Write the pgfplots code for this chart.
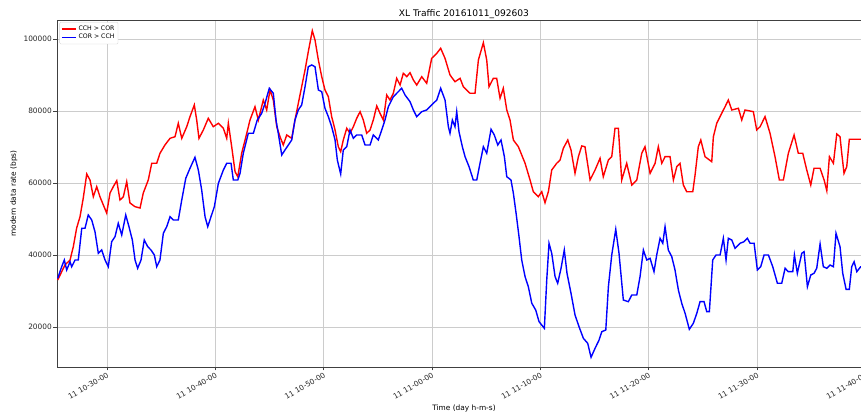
\documentclass[border=0pt]{standalone}
\usepackage{fontspec}
\setmainfont{DejaVu Sans}
\usepackage{pgfplots}
\pgfplotsset{compat=1.18}
\begin{document}
\begin{tikzpicture}
\begin{axis}[
  scale only axis,
  width=814pt, height=347pt,
  xmin=25.385, xmax=100.52,
  ymin=8980, ymax=105272,
  scaled y ticks=false, scaled x ticks=false,
  xtick={30,40,50,60,70,80,90,100},
  xticklabels={11 10-30-00,11 10-40-00,11 10-50-00,11 11-00-00,11 11-10-00,11 11-20-00,11 11-30-00,11 11-40-00},
  ytick={20000,40000,60000,80000,100000},
  yticklabels={20000,40000,60000,80000,100000},
  xtick pos=bottom, ytick pos=left,
  tick align=outside,
  major tick length=3.5pt,
  tick style={black!75, line width=0.6pt},
  axis line style={black!75, line width=0.8pt},
  grid=major,
  major grid style={gray!40, line width=0.8pt},
  tick label style={font=\fontsize{7.4}{8}\selectfont, text=black!85},
  xticklabel style={rotate=30, anchor=north east, inner sep=1pt},
  yticklabel style={inner sep=1.5pt},
  title={XL Traffic 20161011\_092603},
  every axis title/.style={at={(axis description cs:0.5,1)}, anchor=base, yshift=3.3pt, font=\fontsize{9.1}{10}\selectfont},
  xlabel={Time (day h-m-s)},
  every axis x label/.style={at={(axis description cs:0.5,0)}, anchor=base, yshift=-44pt, font=\fontsize{7.4}{8}\selectfont},
  ylabel={modem data rate (bps)},
  every axis y label/.style={at={([xshift=-41pt]axis description cs:0,0.5)}, rotate=90, anchor=base, font=\fontsize{7.4}{8}\selectfont},
  legend style={at={(axis description cs:0.003,0.994)}, anchor=north west, font=\fontsize{6.2}{7}\selectfont, draw=gray!35, rounded corners=1.2pt, fill=white, inner sep=1.5pt, row sep=-1.5pt},
  legend cell align=left,
  legend image code/.code={\draw[#1] (0pt,0pt) -- (14pt,0pt);},
]
\addplot[red, line width=1.4pt] coordinates {
(25.45,33120) (26.12,37290) (26.59,38670) (26.89,42360) (27.20,47550) (27.51,50690) (27.81,55880) (28.13,62540) (28.43,60870) (28.74,56240) (29.05,59010) (29.35,56240) (29.66,53940) (29.97,51710) (30.28,57270) (30.58,59010) (30.90,60680) (31.20,55320) (31.51,56240) (31.82,60400) (32.12,54490) (32.59,53460) (33.05,53100) (33.35,57270) (33.81,60870) (34.13,65510) (34.59,65510) (34.89,68280) (35.35,70590) (35.82,72440) (36.28,72890) (36.58,76610) (36.90,72440) (37.36,75660) (37.66,78440) (38.06,81690) (38.28,77520) (38.49,72440) (38.89,74750) (39.35,77990) (39.81,75660) (40.28,76610) (40.74,75220) (41.05,72440) (41.20,76610) (41.51,70110) (41.82,63180) (42.07,61790) (42.43,68280) (42.90,73830)
(43.20,77520) (43.66,81210) (43.97,77520) (44.43,83070) (44.74,80300) (45.05,85850) (45.35,83070) (45.67,75660) (45.97,72890) (46.27,70590) (46.59,73360) (47.05,72440) (47.35,77520) (47.66,82160) (47.97,86760) (48.28,91400) (48.58,96480) (48.95,102300) (49.20,99720) (49.51,94170) (49.82,89540) (50.12,85850) (50.43,83990) (50.74,78440) (51.05,74750) (51.35,70110) (51.57,68730) (51.81,71970) (52.13,75220) (52.43,73830) (52.74,75660) (53.05,77990) (53.36,79830) (53.66,77520) (53.97,73830) (54.28,74750) (54.58,77520) (54.90,81410) (55.20,79380) (55.51,77520) (55.82,84460) (56.12,83070) (56.43,84930) (56.74,89090) (57.05,87230) (57.35,90480) (57.67,89540) (57.97,90650) (58.28,88620) (58.59,87230) (59.05,89540) (59.51,87710) (59.97,94640) (60.44,96030) (60.80,97420) (61.20,94640)
(61.66,90010) (62.12,88150) (62.59,89090) (62.89,86760) (63.51,84930) (63.97,84930) (64.28,94170) (64.74,98970) (65.05,94170) (65.26,86760) (65.66,89090) (65.97,89090) (66.28,83540) (66.58,86320) (66.90,80300) (67.20,77520) (67.51,71970) (67.97,70110) (68.59,65510) (69.05,60870) (69.35,57620) (69.81,56240) (70.13,57620) (70.43,54570) (70.74,57620) (71.05,63650) (71.51,65510) (71.82,66420) (72.12,69670) (72.53,71970) (72.83,69200) (73.20,62730) (73.51,67340) (73.82,70310) (74.12,70110) (74.59,60870) (75.05,63650) (75.51,66890) (75.81,61790) (76.28,66420) (76.59,67340) (76.89,75220) (77.20,75220) (77.51,60870) (77.97,65510) (78.44,59480) (78.90,60870) (79.36,68280) (79.66,70110)
(80.13,62730) (80.59,65510) (80.89,70110) (81.21,65510) (81.51,67340) (81.97,67340) (82.28,60870) (82.59,64560) (82.89,65510) (83.20,59480) (83.51,57620) (84.07,57620) (84.28,62260) (84.58,70110) (84.81,71970) (85.20,67340) (85.82,65950) (85.97,72890) (86.28,76610) (86.74,79380) (87.05,81210) (87.35,83070) (87.67,80300) (88.28,80770) (88.59,77520) (88.89,80300) (89.66,79830) (89.97,74750) (90.28,75660) (90.74,78440) (91.20,73830) (91.66,67340) (92.06,60870) (92.43,60870) (92.89,68280) (93.42,73360) (93.81,68280) (94.22,68280) (94.59,63650) (94.96,59480) (95.26,64120) (95.82,64120) (96.19,60870) (96.44,57900) (96.68,67340) (97.05,65510) (97.36,73640) (97.66,72890) (97.82,68280) (98.03,62730) (98.28,64560) (98.52,72170) (100.52,72170)
};
\addlegendentry{CCH > COR}
\addplot[blue, line width=1.4pt] coordinates {
(25.45,33590) (25.82,36810) (26.06,38670) (26.28,35900) (26.59,38200) (26.74,36810) (27.05,38670) (27.35,38670) (27.67,47470) (27.97,47470) (28.27,51160) (28.59,49770) (28.89,46530) (29.20,40530) (29.51,41450) (29.82,38670) (30.12,36810) (30.43,43750) (30.74,45140) (31.04,48860) (31.36,45610) (31.73,51160) (32.03,47910) (32.34,44220) (32.59,38670) (32.83,36370) (33.14,38670) (33.44,44220) (33.76,42360) (34.06,41450) (34.37,40060) (34.59,36810) (34.89,38670) (35.20,46080) (35.51,47910) (35.82,50690) (36.12,49770) (36.58,49770) (36.90,55320) (37.27,61340) (37.66,64120) (38.12,67170) (38.43,63650) (38.74,58100) (39.05,50690) (39.30,47910) (39.60,50690) (39.91,53460) (40.28,59960) (40.74,63650) (41.05,65510) (41.45,65510) (41.66,60870) (42.07,60870) (42.28,62730) (42.58,68280) (43.04,73830)
(43.20,73830) (43.51,73830) (43.87,77520) (44.28,79380) (44.59,82160) (44.98,86320) (45.35,84930) (45.60,77520) (45.81,73830) (46.13,67810) (46.43,69200) (46.74,70590) (47.05,71970) (47.35,77520) (47.66,80300) (47.97,81690) (48.28,86760) (48.58,92310) (48.90,92790) (49.20,92310) (49.51,85850) (49.82,85380) (50.12,80770) (50.43,78440) (50.74,75660) (51.05,71970) (51.26,66420) (51.57,62540) (51.81,69200) (52.13,70110) (52.43,74750) (52.74,72440) (53.05,73360) (53.51,73360) (53.82,70590) (54.28,70590) (54.58,73360) (55.04,71970) (55.36,74750) (55.66,77520) (55.97,81210) (56.43,83990) (56.89,85380) (57.20,86320) (57.51,84460) (57.97,82600) (58.28,80300) (58.59,78440) (59.05,79830) (59.51,80300) (59.97,81690) (60.44,83070) (60.80,86320)
(61.20,83070) (61.51,75660) (61.66,73830) (61.88,77520) (62.12,75660) (62.28,79830) (62.49,74280) (62.80,70110) (63.05,67340) (63.42,64560) (63.81,60870) (64.13,60870) (64.43,65510) (64.74,70110) (65.05,68280) (65.45,74940) (65.75,73360) (66.07,70590) (66.37,71970) (66.68,67340) (66.90,61790) (67.29,60870) (67.51,57180) (67.76,51630) (68.03,45140) (68.28,38670) (68.59,34040) (68.89,31260) (69.21,26660) (69.57,24800) (69.88,21550) (70.37,19720) (70.59,33120) (70.80,43310) (71.05,40530) (71.36,34040) (71.60,32210) (71.91,36370) (72.21,41450) (72.46,34980) (72.83,29430) (73.20,23410) (73.57,20160) (73.97,16940) (74.37,15560) (74.68,11670) (75.05,14170) (75.42,16470) (75.67,18780) (76.04,19250) (76.28,31260) (76.59,40060) (76.96,47190) (77.26,40530) (77.66,27570) (78.12,27100) (78.44,28960) (78.90,28960) (79.20,34040) (79.51,41450) (79.82,38670)
(80.13,39140) (80.49,35430) (80.74,40060) (81.05,44690) (81.30,43310) (81.51,47910) (81.81,41450) (82.13,39590) (82.43,35900) (82.74,30350) (83.05,26660) (83.36,23880) (83.75,19440) (84.12,21110) (84.44,23880) (84.74,27100) (85.11,27100) (85.36,24330) (85.60,24330) (85.91,38670) (86.22,40060) (86.59,40060) (86.89,44690) (87.14,38670) (87.35,44690) (87.67,44220) (87.97,41920) (88.43,43310) (88.80,43750) (89.11,44690) (89.36,43310) (89.73,43310) (90.03,35900) (90.34,36810) (90.65,40060) (91.05,40060) (91.45,36810) (91.88,32210) (92.28,32210) (92.59,36370) (92.89,35430) (93.30,35430) (93.45,40060) (93.72,34980) (94.13,40530) (94.34,40980) (94.65,31260) (94.96,34510) (95.26,34980) (95.51,36370) (95.82,43110) (96.12,36810) (96.44,36370) (96.74,37290) (97.05,36810) (97.29,46080) (97.66,42360) (97.91,34980) (98.22,30540) (98.52,30540) (98.74,36810) (98.96,38200) (99.21,35430) (99.57,36810) (100.52,36810)
};
\addlegendentry{COR > CCH}
\end{axis}
\pgfresetboundingbox
\path[use as bounding box] ([xshift=-57pt,yshift=-48pt]current axis.south west) rectangle ([xshift=-10pt,yshift=20pt]current axis.north east);
\end{tikzpicture}
\end{document}
